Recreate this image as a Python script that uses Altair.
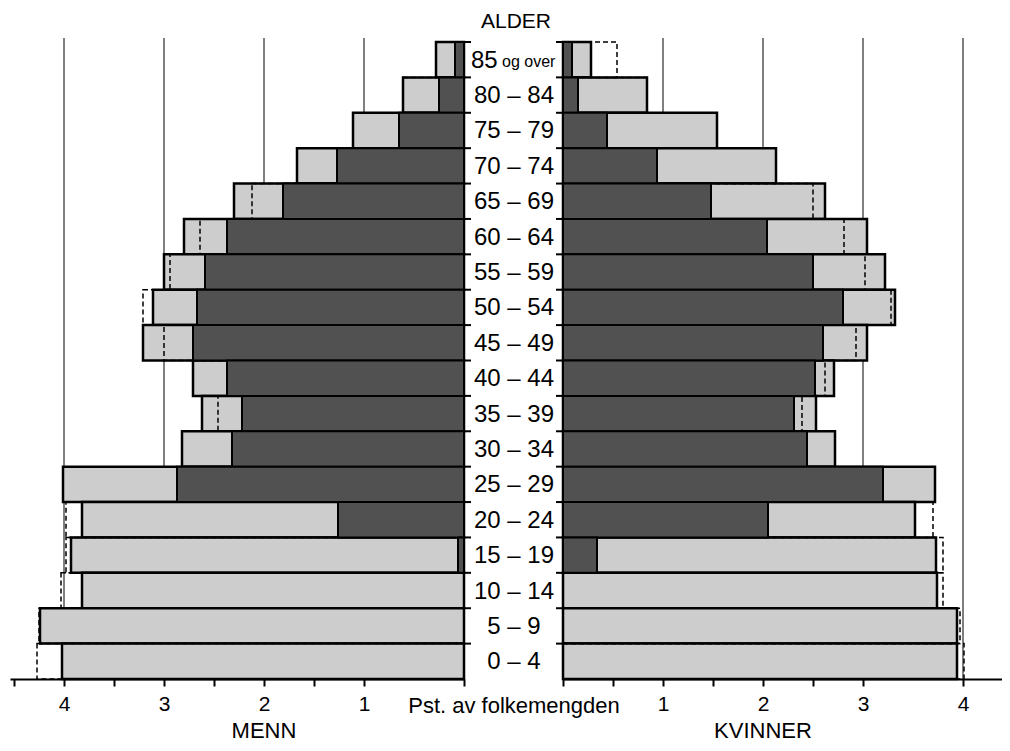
import altair as alt
import pandas as pd

ages = ["85 og over", "80–84", "75–79", "70–74", "65–69", "60–64", "55–59", "50–54",
        "45–49", "40–44", "35–39", "30–34", "25–29", "20–24", "15–19", "10–14", "5–9", "0–4"]
age_labels = ["85", "80 – 84", "75 – 79", "70 – 74", "65 – 69", "60 – 64", "55 – 59", "50 – 54",
              "45 – 49", "40 – 44", "35 – 39", "30 – 34", "25 – 29", "20 – 24", "15 – 19", "10 – 14",
              "5 – 9", "0 – 4"]

men_total = [0.28, 0.61, 1.11, 1.67, 2.30, 2.80, 3.00, 3.11, 3.21, 2.71, 2.62, 2.82, 4.01, 3.82, 3.93, 3.82, 4.24, 4.02]
men_married = [0.09, 0.25, 0.65, 1.27, 1.81, 2.37, 2.59, 2.67, 2.71, 2.37, 2.22, 2.32, 2.87, 1.26, 0.06, 0, 0, 0]
men_dashed = [0.28, 0.61, 1.11, 1.67, 2.12, 2.64, 2.94, 3.21, 3.00, 2.71, 2.46, 2.82, 4.01, 3.98, 3.98, 4.03, 4.25, 4.27]

women_total = [0.28, 0.84, 1.54, 2.13, 2.62, 3.04, 3.22, 3.32, 3.04, 2.71, 2.53, 2.72, 3.72, 3.52, 3.73, 3.74, 3.94, 3.94]
women_married = [0.09, 0.15, 0.44, 0.94, 1.48, 2.04, 2.50, 2.80, 2.60, 2.52, 2.31, 2.44, 3.20, 2.05, 0.34, 0, 0, 0]
women_dashed = [0.54, 0.84, 1.54, 2.13, 2.50, 2.81, 3.02, 3.28, 2.93, 2.62, 2.39, 2.72, 3.72, 3.70, 3.80, 3.80, 3.97, 4.01]

grid_values = [1, 2, 3, 4]
men_ticks = [0, 1, 1.5, 2, 2.5, 3, 3.5, 4, 4.5]
women_ticks = [0, 0.5, 1, 1.5, 2, 2.5, 3, 4]

FONT = "Liberation Sans"
H = 637
LIGHT = "#cdcdcd"
DARK = "#515151"

yenc = alt.Y("age:N", sort=ages, axis=None,
             scale=alt.Scale(domain=ages, paddingInner=0, paddingOuter=0))


def side(total, married, dashed, reverse, width, dmax, ticks, title):
    df = pd.DataFrame({"age": ages, "total": total, "married": married, "dashed": dashed})
    xs = alt.Scale(domain=[0, dmax], reverse=reverse, nice=False, zero=True)
    axis = alt.Axis(values=ticks, title=None, grid=False, domainColor="black", domainWidth=2,
                    tickColor="black", tickWidth=2, tickSize=7,
                    labelExpr="datum.value > 0 && datum.value % 1 == 0 ? format(datum.value, 'd') : ''",
                    labelFont=FONT, labelFontSize=21, labelColor="black", labelPadding=7,
                    labelFlush=False)
    grid = alt.Chart(pd.DataFrame({"v": grid_values})).mark_rule(
        color="black", strokeWidth=1).encode(
        x=alt.X("v:Q", scale=xs, axis=axis), y=alt.value(-4), y2=alt.value(H))
    light = alt.Chart(df).mark_bar(fill=LIGHT, stroke="black", strokeWidth=2.5).encode(
        x=alt.X("total:Q", scale=xs), y=yenc)
    dash = alt.Chart(df).mark_bar(fillOpacity=0, stroke="black", strokeWidth=1.5,
                                  strokeDash=[5, 3]).encode(
        x=alt.X("dashed:Q", scale=xs), y=yenc)
    dark = alt.Chart(df).transform_filter("datum.married > 0").mark_bar(
        fill=DARK, stroke="black", strokeWidth=2).encode(
        x=alt.X("married:Q", scale=xs), y=yenc)
    ttl = alt.Chart(pd.DataFrame({"t": [title]})).mark_text(
        font=FONT, fontSize=22, color="black").encode(
        x=alt.datum(2), y=alt.value(H + 52), text="t:N")
    return alt.layer(grid, light, dash, dark, ttl).properties(width=width, height=H)


men = side(men_total, men_married, men_dashed, True, 454, 4.54, men_ticks, "MENN")
women = side(women_total, women_married, women_dashed, False, 439, 4.39, women_ticks, "KVINNER")

lab_df = pd.DataFrame({"age": ages, "label": age_labels})
mid_labels = alt.Chart(lab_df).transform_filter("datum.age != '85 og over'").mark_text(
    font=FONT, fontSize=24, color="black", align="center", baseline="middle", dy=1).encode(
    x=alt.value(50), y=yenc, text="label:N")
mid_85 = alt.Chart(lab_df).transform_filter("datum.age == '85 og over'").mark_text(
    font=FONT, fontSize=24, color="black", align="left", baseline="middle", dy=1).encode(
    x=alt.value(7), y=yenc, text="label:N")
mid_og = alt.Chart(pd.DataFrame({"age": [ages[0]], "t": ["og over"]})).mark_text(
    font=FONT, fontSize=16, color="black", align="left", baseline="middle", dy=2).encode(
    x=alt.value(38), y=yenc, text="t:N")
edge_l = alt.Chart(lab_df).mark_rule(color="black", strokeWidth=2).encode(
    y=alt.Y("age:N", sort=ages, axis=None, bandPosition=0,
            scale=alt.Scale(domain=ages, paddingInner=0, paddingOuter=0)),
    x=alt.value(0), x2=alt.value(7))
edge_r = alt.Chart(lab_df).mark_rule(color="black", strokeWidth=2).encode(
    y=alt.Y("age:N", sort=ages, axis=None, bandPosition=0,
            scale=alt.Scale(domain=ages, paddingInner=0, paddingOuter=0)),
    x=alt.value(92), x2=alt.value(99))
alder = alt.Chart(pd.DataFrame({"t": ["ALDER"]})).mark_text(
    font=FONT, fontSize=21, color="black").encode(
    x=alt.value(52), y=alt.value(-20), text="t:N")
pst = alt.Chart(pd.DataFrame({"t": ["Pst. av folkemengden"]})).mark_text(
    font=FONT, fontSize=22, color="black").encode(
    x=alt.value(50), y=alt.value(H + 27), text="t:N")
middle = alt.layer(edge_l, edge_r, mid_labels, mid_85, mid_og, alder, pst).properties(width=99, height=H)

chart = alt.hconcat(men, middle, women, spacing=0, bounds="flush").properties(
    padding={"left": 2, "right": 0, "top": 3, "bottom": 0}
).configure_view(stroke=None).configure_concat(spacing=0)

chart.save("out.html", embed_options={"renderer": "svg", "actions": False})
